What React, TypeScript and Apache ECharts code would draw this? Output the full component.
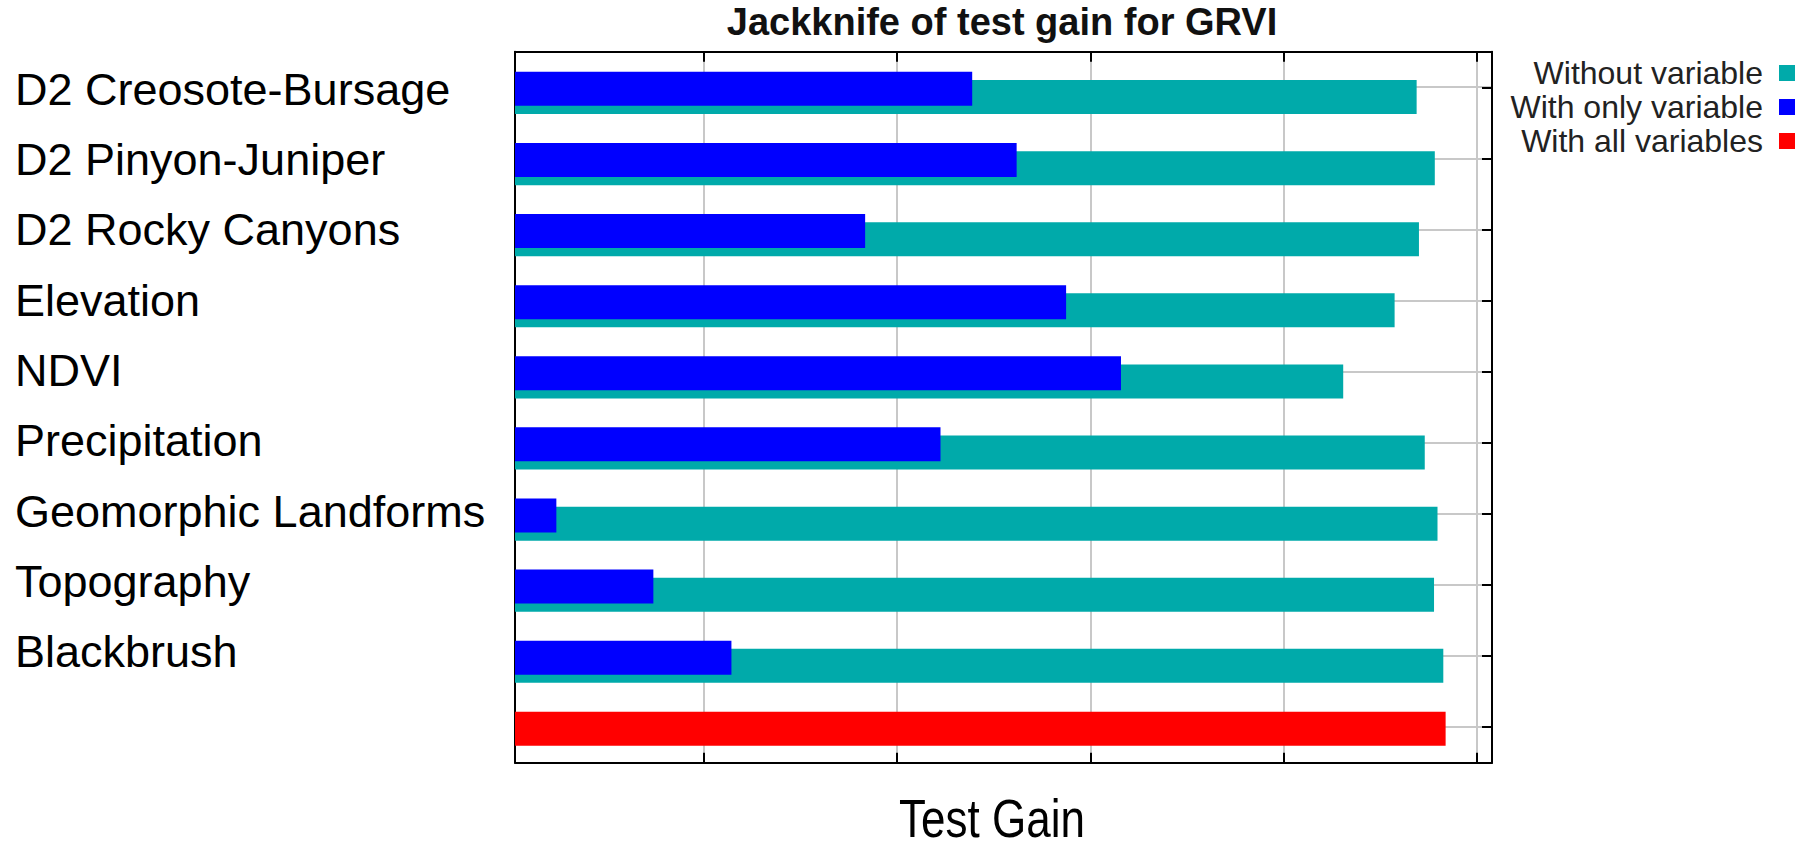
import React, { useEffect, useRef } from "react";
import * as echarts from "echarts";

const categories = [
  "D2 Creosote-Bursage",
  "D2 Pinyon-Juniper",
  "D2 Rocky Canyons",
  "Elevation",
  "NDVI",
  "Precipitation",
  "Geomorphic Landforms",
  "Topography",
  "Blackbrush",
  "",
];
const withoutVariable = [2.333, 2.38, 2.339, 2.276, 2.143, 2.354, 2.387, 2.378, 2.402, null];
const withOnlyVariable = [1.183, 1.298, 0.906, 1.426, 1.568, 1.101, 0.107, 0.358, 0.56, null];
const withAllVariables = [null, null, null, null, null, null, null, null, null, 2.408];
const seriesNames = ["Without variable", "With only variable", "With all variables"];
const seriesColors = ["#00AAAA", "#0000FF", "#FF0000"];
const titleText = "Jackknife of test gain for GRVI";
const axisTitle = "Test Gain";
const X_MAX = 2.528;
const FRAME_SHIFT = 0.011;
const TICK_STEP = 0.5;

export default function App() {
  const ref = useRef<HTMLDivElement>(null);
  useEffect(() => {
    if (!ref.current) return;
    const chart = echarts.init(ref.current, null, { renderer: "svg" });
    const black = "#000";
    const gridGray = "#c8c8c8";
    const sans = "'Liberation Sans', Arial, sans-serif";
    const frameX = {
      type: "value",
      gridIndex: 1,
      min: FRAME_SHIFT,
      max: FRAME_SHIFT + X_MAX,
      minInterval: TICK_STEP,
      maxInterval: TICK_STEP,
      axisLabel: { show: false },
      axisLine: { show: true, onZero: false, lineStyle: { color: black, width: 2 } },
      axisTick: { show: true, inside: true, length: 10, lineStyle: { color: black, width: 2 } },
    };
    const frameY = {
      type: "value",
      gridIndex: 1,
      inverse: true,
      min: -0.5,
      max: categories.length - 0.5,
      minInterval: 1,
      maxInterval: 1,
      axisLabel: { show: false },
      axisLine: { show: true, onZero: false, lineStyle: { color: black, width: 2 } },
    };
    const barCommon = {
      type: "bar",
      xAxisIndex: 0,
      yAxisIndex: 0,
      barWidth: 34,
      barGap: "-75.9%",
    };
    const option: any = {
      animation: false,
      backgroundColor: "#fff",
      title: {
        text: titleText,
        left: 1002,
        top: 3,
        padding: 0,
        textAlign: "center",
        textStyle: {
          fontFamily: sans,
          fontWeight: "bold",
          fontSize: 38,
          color: "#111",
        },
      },
      legend: {
        data: seriesNames,
        orient: "vertical",
        align: "right",
        right: 11,
        top: 57,
        padding: 0,
        icon: "rect",
        itemWidth: 16,
        itemHeight: 16,
        itemGap: 2,
        selectedMode: false,
        textStyle: {
          fontFamily: sans,
          fontSize: 32,
          lineHeight: 30,
          color: "#222",
          padding: [0, 11, 0, 0],
        },
      },
      graphic: [
        {
          type: "text",
          x: 992,
          y: 819,
          scaleX: 0.83,
          style: {
            text: axisTitle,
            font: "53px 'Liberation Sans', Arial, sans-serif",
            fill: "#000",
            align: "center",
            verticalAlign: "middle",
            textAlign: "center",
            textVerticalAlign: "middle",
          },
        },
      ],
      grid: [
        { left: 515, top: 57.4, width: 977, height: 711 },
        { left: 515, top: 51.7, width: 977, height: 711 },
        { left: 515, top: 54.05, width: 977, height: 703 },
      ],
      xAxis: [
        { type: "value", gridIndex: 0, min: 0, max: X_MAX, show: false },
        {
          ...frameX,
          position: "bottom",
          splitLine: { show: true, lineStyle: { color: gridGray, width: 2 } },
        },
        { ...frameX, position: "top", splitLine: { show: false } },
        { type: "value", gridIndex: 2, min: 0, max: X_MAX, show: false },
      ],
      yAxis: [
        {
          type: "category",
          gridIndex: 0,
          data: categories,
          inverse: true,
          show: false,
        },
        {
          ...frameY,
          position: "left",
          axisTick: { show: false },
          splitLine: { show: true, lineStyle: { color: gridGray, width: 2 } },
        },
        {
          ...frameY,
          position: "right",
          axisTick: { show: true, inside: true, length: 10, lineStyle: { color: black, width: 2 } },
          splitLine: { show: false },
        },
        {
          type: "category",
          gridIndex: 2,
          data: categories,
          inverse: true,
          position: "left",
          axisLine: { show: false },
          axisTick: { show: false },
          splitLine: { show: false },
          axisLabel: {
            show: true,
            interval: 0,
            align: "left",
            margin: 500,
            fontSize: 45,
            color: "#000",
            fontFamily: sans,
          },
        },
      ],
      series: [
        {
          ...barCommon,
          name: seriesNames[1],
          stack: "single",
          data: withOnlyVariable,
          itemStyle: { color: seriesColors[1] },
          z: 3,
        },
        {
          ...barCommon,
          name: seriesNames[2],
          stack: "single",
          data: withAllVariables,
          itemStyle: { color: seriesColors[2] },
          z: 3,
        },
        {
          ...barCommon,
          name: seriesNames[0],
          data: withoutVariable,
          itemStyle: { color: seriesColors[0] },
          z: 2,
        },
      ],
    };
    chart.setOption(option);
    return () => chart.dispose();
  }, []);
  return (
    <div
      ref={ref}
      style={{ position: "fixed", left: 0, top: 0, width: 1806, height: 848, background: "#fff" }}
    />
  );
}
